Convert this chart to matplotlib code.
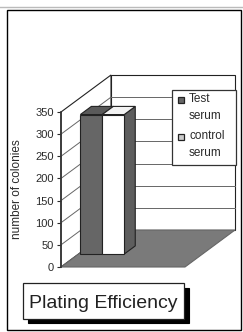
import matplotlib
matplotlib.use("Agg")
import matplotlib.pyplot as plt
from matplotlib.patches import Rectangle

plt.rcParams['font.family'] = ['Liberation Sans', 'DejaVu Sans']

# ---- data ----
categories = ["Plating Efficiency"]
series_names = ["Test serum", "control serum"]
values = [315, 315]
yticks = [0, 50, 100, 150, 200, 250, 300, 350]
ylabel = "number of colonies"

# ---- style ----
front_colors = ["#666666", "#ffffff"]
top_colors = ["#5a5a5a", "#f2f2f2"]
side_colors = ["#4a4a4a", "#5e5e5e"]
floor_color = "#7a7a7a"
txt_color = "#2a2a2a"

W, H = 243, 332
fig = plt.figure(figsize=(W / 100, H / 100), dpi=100)
fig.patch.set_facecolor("white")

def fx(x):
    return x / W

def fy(y):
    return 1 - y / H

# outer frame
fig.add_artist(plt.Line2D([0, 1], [fy(7), fy(7)], color="#bbbbbb", lw=1))
fig.add_artist(Rectangle((fx(7), fy(330)), fx(241) - fx(7), fy(10) - fy(330),
                         transform=fig.transFigure, fill=False, ec="black", lw=1))

ax = fig.add_axes([fx(61), fy(267), fx(185) - fx(61), fy(112) - fy(267)])
ax.set_xlim(0, 1)
ax.set_ylim(0, 350)
ax.patch.set_visible(False)
for s in ["top", "right", "bottom"]:
    ax.spines[s].set_visible(False)
ax.spines["left"].set_color("#333333")
ax.spines["left"].set_linewidth(1.2)
ax.spines["left"].set_zorder(10)
ax.set_xticks([])
ax.set_yticks(yticks)
ax.set_yticklabels([str(v) for v in yticks])
ax.tick_params(axis="y", direction="out", length=3, width=0.8, pad=2,
               labelsize=8, colors=txt_color)

DX = 50 / 124.0
DY = 37 * 350 / 155.0

def P(x, y, z):
    return (x + z * DX, y + z * DY)

def poly(pts, fc, ec="#222222", lw=0.8, z=1):
    xs = [p[0] for p in pts]
    ys = [p[1] for p in pts]
    ax.fill(xs, ys, facecolor=fc, edgecolor=ec, lw=lw, zorder=z, clip_on=False)

ymax = yticks[-1]
# back wall
poly([P(0, 0, 1), P(1, 0, 1), P(1, ymax, 1), P(0, ymax, 1)], "white", z=1)
# left wall
poly([P(0, 0, 0), P(0, 0, 1), P(0, ymax, 1), P(0, ymax, 0)], "white", z=1)
# gridlines
for v in yticks[1:-1]:
    a, b = P(0, v, 1), P(1, v, 1)
    ax.plot([a[0], b[0]], [a[1], b[1]], color="#666666", lw=0.7, zorder=2, clip_on=False)
    a0 = P(0, v, 0)
    ax.plot([a0[0], a[0]], [a0[1], a[1]], color="#666666", lw=0.7, zorder=2, clip_on=False)
# floor
poly([P(0, 0, 0), P(1, 0, 0), P(1, 0, 1), P(0, 0, 1)], floor_color, ec="#666666", z=3)

# bars
bw = 0.177
x0 = 0.015
z0, z1 = 0.35, 0.57
for i, v in enumerate(values):
    xa = x0 + i * bw
    xb = xa + bw
    poly([P(xb, 0, z0), P(xb, 0, z1), P(xb, v, z1), P(xb, v, z0)], side_colors[i], z=4 + i)
    poly([P(xa, v, z0), P(xb, v, z0), P(xb, v, z1), P(xa, v, z1)], top_colors[i], z=4 + i)
    poly([P(xa, 0, z0), P(xb, 0, z0), P(xb, v, z0), P(xa, v, z0)], front_colors[i], z=4 + i)

# y label
fig.text(fx(17), fy(189), ylabel, rotation=90, ha="center", va="center",
         fontsize=8.5, color=txt_color)

# legend
fig.add_artist(Rectangle((fx(172), fy(165)), fx(236) - fx(172), fy(90) - fy(165),
                         transform=fig.transFigure, fc="white", ec="#333333", lw=0.9, zorder=20))
leg_y = [100, 137]
for i, name in enumerate(series_names):
    cy = leg_y[i]
    fig.add_artist(Rectangle((fx(178), fy(cy + 3)), fx(6), 6 / H,
                             transform=fig.transFigure, fc=front_colors[i] if i == 0 else "#cccccc",
                             ec="#222222", lw=0.9, zorder=21))
    fig.text(fx(189), fy(cy + 7.5), name.replace(" ", "\n"), ha="left", va="center",
             fontsize=8.5, color=txt_color, linespacing=1.45, zorder=22)

# category title box with shadow
fig.add_artist(Rectangle((fx(28), fy(323)), fx(189) - fx(28), fy(288) - fy(323),
                         transform=fig.transFigure, fc="black", ec="black", lw=0.8, zorder=20))
fig.add_artist(Rectangle((fx(23), fy(319)), fx(184) - fx(23), fy(283) - fy(319),
                         transform=fig.transFigure, fc="white", ec="#222222", lw=0.9, zorder=21))
fig.text(fx(103.5), fy(308), categories[0], ha="center", va="baseline",
         fontsize=14, color="#222222", zorder=22)

fig.savefig("out.png", dpi=100)
